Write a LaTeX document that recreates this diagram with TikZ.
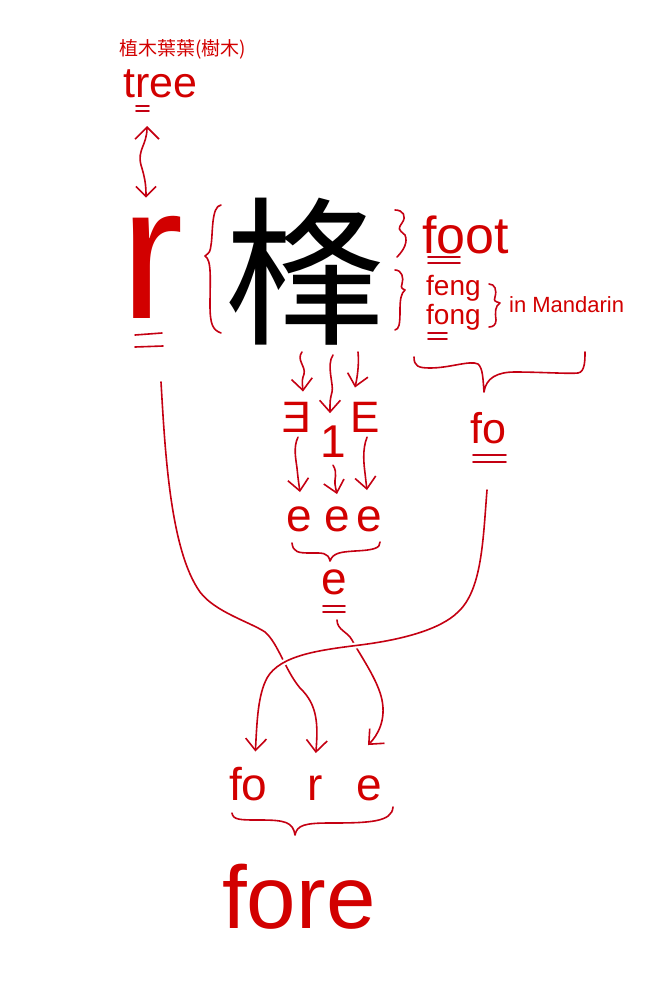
\documentclass[tikz,border=0pt]{standalone}
\usepackage{fontspec}
\setmainfont{Liberation Sans}
\newfontfamily\cjk{Noto Sans CJK TC}
\usetikzlibrary{arrows.meta,calc}
\definecolor{inkred}{RGB}{210,0,0}
\definecolor{penred}{RGB}{196,0,18}

\begin{document}
\begin{tikzpicture}[x=1pt,y=-1pt,
  lbl/.style={text=inkred, inner sep=0pt, anchor=base west},
  pen/.style={draw=penred, line width=1.6pt, line cap=round, line join=round},
  arr/.style={pen, -{Straight Barb[length=9pt,width=16pt,line width=1.6pt,scale=1.3]}},
  dline/.style={pen, line width=1.6pt}
]
\useasboundingbox (0,0) rectangle (661,998);

% top: tree and r
\node[lbl, font=\cjk\fontsize{19}{19}\selectfont] (gloss) at (119,56) {植木葉葉(樹木)};
\node[lbl, font=\fontsize{43}{43}\selectfont] (tree) at (123,97) {tree};
\node[lbl, font=\fontsize{190}{190}\selectfont] (bigr) at (120,318) {r};
\draw[dline] (136,106) -- (149,106) (136,111) -- (149,111);
\draw[dline] (135,335) -- (162,333) (135,347) -- (163,346);
\draw[pen, {Straight Barb[length=12pt,width=24pt,line width=1.6pt]}-{Straight Barb[length=10pt,width=20pt,line width=1.6pt]}]
  ([xshift=24pt,yshift=-29pt]tree.base west) .. controls (147,145) and (137,150) .. (141,165)
  .. controls (145,178) and (146,185) .. ([xshift=26pt,yshift=18pt]bigr.north west);

% the character
\node[inner sep=0pt, font=\cjk\fontsize{160}{160}\selectfont] (feng) at (305,272) {桻};
\draw[pen] (221,205) .. controls (211,206) and (213,235) .. (211,245) .. controls (210,252) .. (205,256)
  .. controls (212,260) and (210,280) .. (210,305) .. controls (210,325) and (213,330) .. (221,333);

% readings
\node[lbl, font=\fontsize{52}{52}\selectfont] (foot) at (422,253) {foot};
\node[lbl, font=\fontsize{28}{28}\selectfont] (fengM) at (426,295) {feng};
\node[lbl, font=\fontsize{28}{28}\selectfont] (fong) at (426,324) {fong};
\node[lbl, font=\fontsize{22}{22}\selectfont] (mand) at (509,312) {in Mandarin};
\draw[dline] (428,257) -- (460,257) (428,263) -- (460,263);
\draw[dline] (428,333) -- (447,333) (428,339) -- (447,339);
\draw[pen] (395,210) .. controls (403,210) and (407,216) .. (402,223) .. controls (398,229) .. (405,235)
  .. controls (408,242) and (404,250) .. (397,257);
\draw[pen] (395,270) .. controls (402,270) and (404,278) .. (402,284) .. controls (401,288) .. (405,290)
  .. controls (401,293) and (400,300) .. (400,310) .. controls (400,325) and (399,329) .. (395,330);
\draw[pen] (489,284) .. controls (495,284) and (497,290) .. (495,297) .. controls (494,301) .. (500,303)
  .. controls (495,306) and (495,312) .. (496,320) .. controls (496,325) and (493,327) .. (489,327);
\draw[pen] (414,357) .. controls (414,366) and (418,368) .. (430,368) .. controls (450,368) and (470,360) .. (478,364)
  .. controls (483,368) and (483,380) .. (484,392) .. controls (486,378) and (497,372) .. (515,372)
  .. controls (540,372) and (570,374) .. (578,373) .. controls (585,372) and (585,360) .. (585,352);
\node[lbl, font=\fontsize{43}{43}\selectfont] (fo) at (470,443) {fo};
\draw[dline] (473,455) -- (506,455) (473,462) -- (506,462);

% strokes
\coordinate (s1) at (302,352);
\coordinate (s2) at (333,355);
\coordinate (s3) at (358,352);
\node[lbl, font=\fontsize{44}{44}\selectfont, anchor=base, xscale=-1] (revE) at (297,432) {E};
\node[lbl, font=\fontsize{46}{46}\selectfont, anchor=base] (one) at (333,457) {1};
\node[lbl, font=\fontsize{44}{44}\selectfont, anchor=base] (capE) at (365,432) {E};
\node[lbl, font=\fontsize{46}{46}\selectfont, anchor=base] (e1) at (299,531) {e};
\node[lbl, font=\fontsize{46}{46}\selectfont, anchor=base] (e2) at (337,531) {e};
\node[lbl, font=\fontsize{46}{46}\selectfont, anchor=base] (e3) at (369,531) {e};
\draw[arr] (s1) .. controls (296,360) and (306,366) .. (304,374) .. controls (302,380) .. ([xshift=6pt,yshift=10pt]revE.north);
\draw[arr] (s2) .. controls (326,365) and (334,385) .. (332,392) .. controls (330,400) .. ([xshift=-3pt,yshift=12pt]one.north);
\draw[arr] (s3) .. controls (359,362) and (358,374) .. ([xshift=-10pt,yshift=14pt]capE.north);
\draw[arr] ([xshift=1pt,yshift=-5pt]revE.south) .. controls (293,447) and (296,460) .. (297,468)
  .. controls (298,478) .. ([xshift=1pt,yshift=14pt]e1.north);
\draw[arr] ([xshift=0pt,yshift=-8pt]one.south) .. controls (338,473) and (334,480) .. (335,484)
  .. controls (336,490) .. ([xshift=0pt,yshift=12pt]e2.north);
\draw[arr] ([xshift=2pt,yshift=-5pt]capE.south) .. controls (362,450) and (364,465) .. (365,473)
  .. controls (366,482) .. ([xshift=-2pt,yshift=16pt]e3.north);
\draw[pen] (292,543) .. controls (293,552) and (298,553) .. (310,553) .. controls (322,553) and (328,552) .. (330,561)
  .. controls (333,553) and (340,552) .. (355,551) .. controls (375,550) and (380,548) .. (380,542);
\node[lbl, font=\fontsize{46}{46}\selectfont, anchor=base] (e4) at (334,594) {e};
\draw[dline] (323,606) -- (345,606) (323,612) -- (345,612);

% bottom
\node[lbl, font=\fontsize{46}{46}\selectfont] (fob) at (229,800) {fo};
\node[lbl, font=\fontsize{46}{46}\selectfont] (rb) at (307,800) {r};
\node[lbl, font=\fontsize{46}{46}\selectfont] (eb) at (356,800) {e};
\node[lbl, font=\fontsize{89}{89}\selectfont] (fore) at (222,928) {fore};
\draw[pen] (232,813) .. controls (233,820) and (240,820) .. (260,820) .. controls (285,820) and (293,822) .. (295,835)
  .. controls (297,825) and (305,823) .. (330,823) .. controls (370,823) and (392,822) .. (393,807);

\draw[arr] ([xshift=41pt,yshift=-64pt]bigr.base west) .. controls (165,450) and (170,550) .. (200,592)
  .. controls (215,612) and (250,622) .. (265,632) .. controls (278,643) and (285,670) .. (300,688)
  .. controls (318,705) and (318,725) .. ([xshift=1pt,yshift=22pt]rb.north);
\draw[arr] ([xshift=3pt,yshift=-26pt]e4.base) .. controls (337,630) and (348,632) .. (352,640)
  .. controls (360,655) and (378,680) .. (382,700) .. controls (386,720) and (378,735) .. ([xshift=-1pt,yshift=30pt]eb.north);
\draw[arr, preaction={draw=white, line width=6pt, -}] ([xshift=17pt,yshift=-47pt]fo.base west)
  .. controls (483,540) and (482,590) .. (458,612) .. controls (440,630) and (400,640) .. (360,645)
  .. controls (320,650) and (280,655) .. (267,678) .. controls (258,695) and (257,720) .. ([xshift=7pt,yshift=15pt]fob.north);
\end{tikzpicture}
\end{document}
